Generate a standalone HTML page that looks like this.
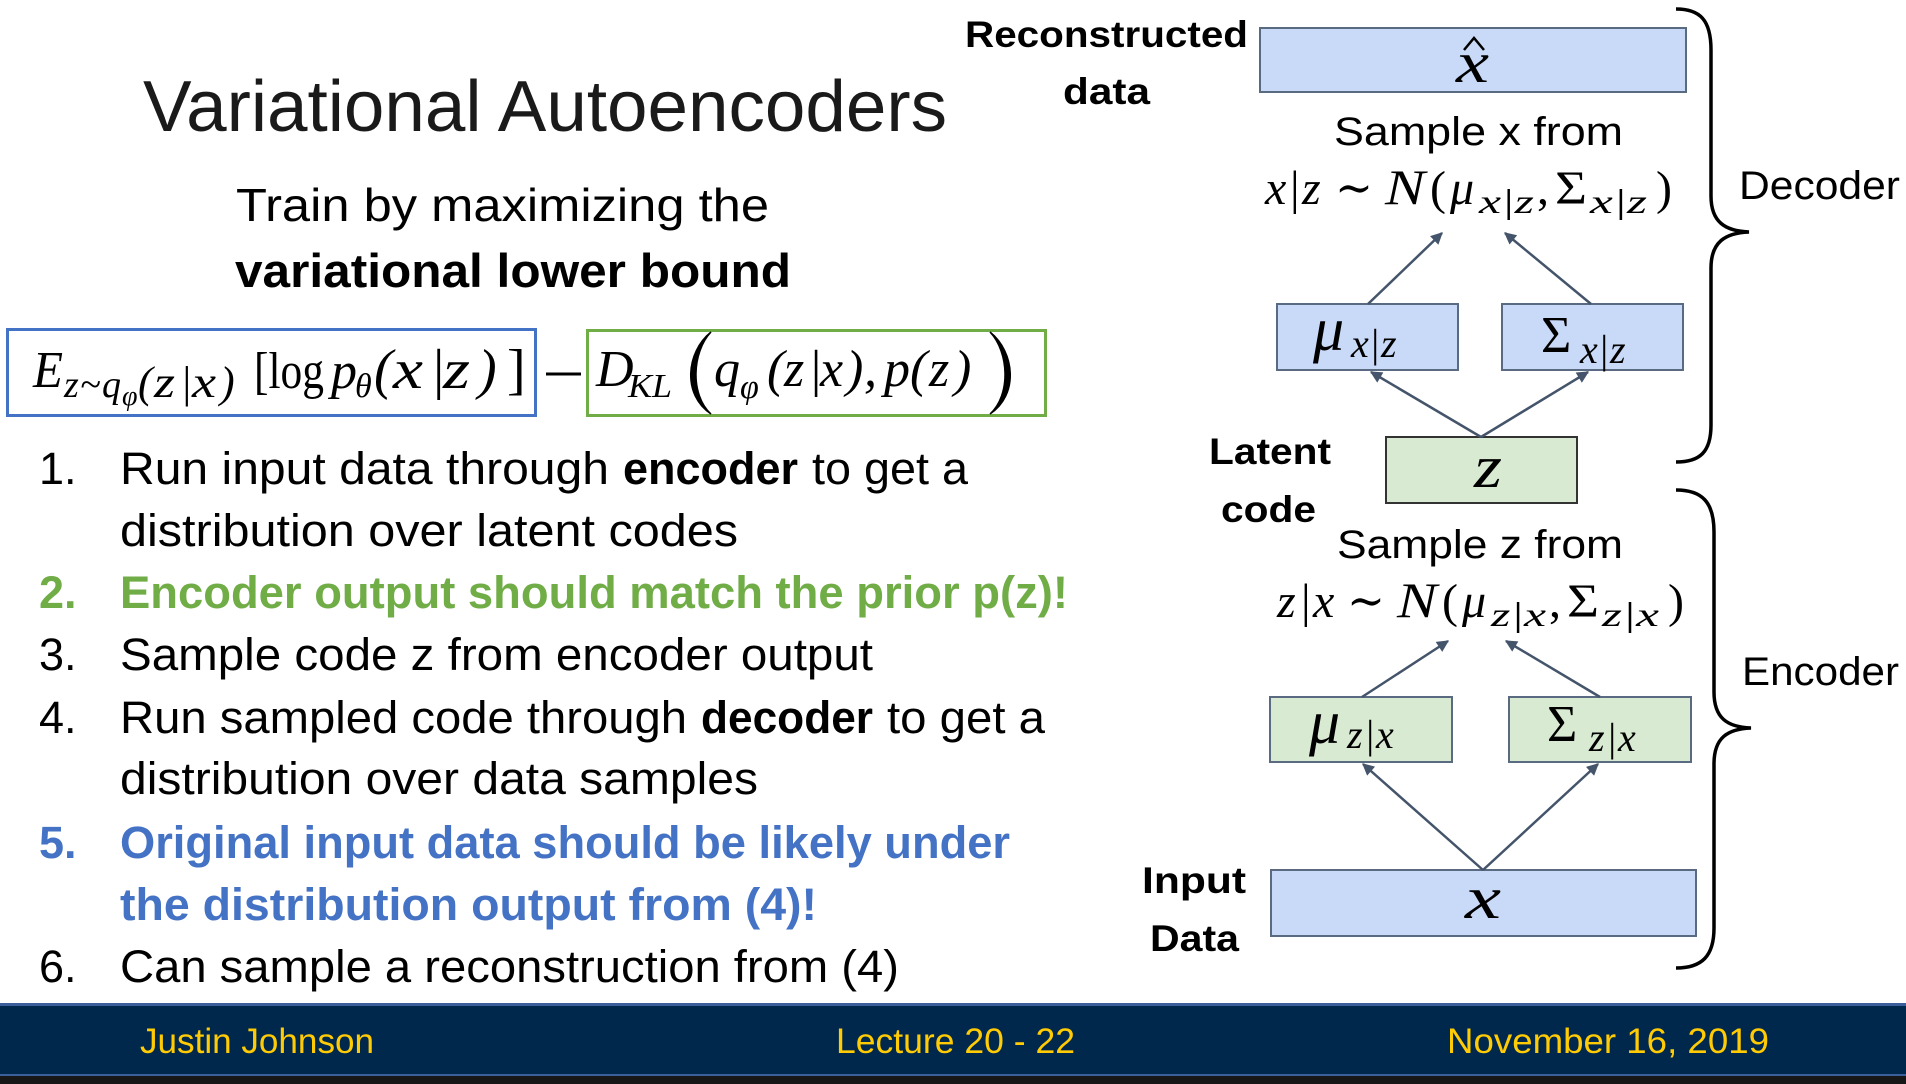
<!DOCTYPE html>
<html>
<head>
<meta charset="utf-8">
<style>
html,body{margin:0;padding:0;background:#fff;}
svg{display:block;}
.s{font-family:"Liberation Sans",sans-serif;}
.m{font-family:"Liberation Serif","DejaVu Serif",serif;}
</style>
</head>
<body>
<svg width="1906" height="1084" viewBox="0 0 1906 1084" xmlns="http://www.w3.org/2000/svg">
<defs>
<marker id="ah" viewBox="0 0 10 10" refX="9" refY="5" markerWidth="14" markerHeight="12" markerUnits="userSpaceOnUse" orient="auto">
<path d="M0,0 L10,5 L0,10 z" fill="#44546a"/>
</marker>
</defs>
<rect x="0" y="0" width="1906" height="1084" fill="#ffffff"/>

<!-- Title -->
<text class="s" x="143" y="131" font-size="72" fill="#1a1a1a" textLength="804" lengthAdjust="spacingAndGlyphs">Variational Autoencoders</text>
<text class="s" x="236" y="221" font-size="46" fill="#000" textLength="533" lengthAdjust="spacingAndGlyphs">Train by maximizing the</text>
<text class="s" x="235" y="287" font-size="47" font-weight="bold" fill="#000" textLength="556" lengthAdjust="spacingAndGlyphs">variational lower bound</text>

<!-- Formula boxes -->
<rect x="7.5" y="329.5" width="528" height="86" fill="none" stroke="#4472c4" stroke-width="3"/>
<rect x="587.5" y="330.5" width="458" height="85" fill="none" stroke="#70ad47" stroke-width="3"/>

<g class="m" fill="#000">
<text x="33" y="387" font-size="52" font-style="italic" textLength="30" lengthAdjust="spacingAndGlyphs">E</text>
<text x="64 80 102" y="397" font-size="38" font-style="italic">z~q</text>
<text x="122" y="405" font-size="28" font-style="italic">φ</text>
<text x="138" y="397" font-size="44" font-style="italic">(</text>
<text x="154" y="397" font-size="44" font-style="italic" textLength="21" lengthAdjust="spacingAndGlyphs">z</text>
<text x="180" y="397" font-size="44" font-style="italic">|</text>
<text x="192" y="397" font-size="44" font-style="italic" textLength="24" lengthAdjust="spacingAndGlyphs">x</text>
<text x="220" y="397" font-size="44" font-style="italic">)</text>
<text x="254" y="388" font-size="52" textLength="70" lengthAdjust="spacingAndGlyphs">[log</text>
<text x="331" y="388" font-size="52" font-style="italic">p</text>
<text x="355" y="397" font-size="34" font-style="italic">θ</text>
<text x="374" y="388" font-size="56" font-style="italic">(</text>
<text x="393" y="388" font-size="56" font-style="italic" textLength="30" lengthAdjust="spacingAndGlyphs">x</text>
<text x="430" y="388" font-size="56" font-style="italic">|</text>
<text x="443" y="388" font-size="56" font-style="italic" textLength="27" lengthAdjust="spacingAndGlyphs">z</text>
<text x="478" y="388" font-size="56" font-style="italic">)</text>
<text x="507" y="388" font-size="56">]</text>

<line x1="546" y1="374" x2="581" y2="374" stroke="#000" stroke-width="3"/>

<text x="596" y="386" font-size="52" font-style="italic">D</text>
<text x="628" y="397" font-size="34" font-style="italic" textLength="44" lengthAdjust="spacingAndGlyphs">KL</text>
<path d="M711,332 C686,352 682,395 711,414 C690,395 692,352 711,332 z" fill="#000" stroke="#000" stroke-width="1.5"/>
<text x="714" y="386" font-size="52" font-style="italic">q</text>
<text x="740" y="398" font-size="34" font-style="italic">φ</text>
<text x="767 784 808 820 846 864" y="386" font-size="52" font-style="italic">(z|x),</text>
<text x="884 910 929 954" y="386" font-size="52" font-style="italic">p(z)</text>
<path d="M990,332 C1015,352 1019,395 990,414 C1011,395 1009,352 990,332 z" fill="#000" stroke="#000" stroke-width="1.5"/>
</g>

<!-- List -->
<g class="s" font-size="45" fill="#000">
<text x="39" y="484">1.</text>
<text x="120" y="484" textLength="489" lengthAdjust="spacingAndGlyphs">Run input data through</text>
<text x="623" y="484" font-weight="bold" textLength="175" lengthAdjust="spacingAndGlyphs">encoder</text>
<text x="812" y="484" textLength="156" lengthAdjust="spacingAndGlyphs">to get a</text>
<text x="120" y="546" textLength="618" lengthAdjust="spacingAndGlyphs">distribution over latent codes</text>

<text x="39" y="608" font-weight="bold" fill="#70ad47">2.</text>
<text x="120" y="608" font-weight="bold" fill="#70ad47" textLength="948" lengthAdjust="spacingAndGlyphs">Encoder output should match the prior p(z)!</text>

<text x="39" y="670">3.</text>
<text x="120" y="670" textLength="753" lengthAdjust="spacingAndGlyphs">Sample code z from encoder output</text>

<text x="39" y="733">4.</text>
<text x="120" y="733" textLength="567" lengthAdjust="spacingAndGlyphs">Run sampled code through</text>
<text x="701" y="733" font-weight="bold" textLength="172" lengthAdjust="spacingAndGlyphs">decoder</text>
<text x="887" y="733" textLength="158" lengthAdjust="spacingAndGlyphs">to get a</text>
<text x="120" y="794" textLength="638" lengthAdjust="spacingAndGlyphs">distribution over data samples</text>

<text x="39" y="858" font-weight="bold" fill="#4472c4">5.</text>
<text x="120" y="858" font-weight="bold" fill="#4472c4" textLength="890" lengthAdjust="spacingAndGlyphs">Original input data should be likely under</text>
<text x="120" y="920" font-weight="bold" fill="#4472c4" textLength="697" lengthAdjust="spacingAndGlyphs">the distribution output from (4)!</text>

<text x="39" y="982">6.</text>
<text x="120" y="982" textLength="779" lengthAdjust="spacingAndGlyphs">Can sample a reconstruction from (4)</text>
</g>

<!-- Diagram labels -->
<g class="s" fill="#000" font-weight="bold" font-size="37">
<text x="965" y="47" textLength="283" lengthAdjust="spacingAndGlyphs">Reconstructed</text>
<text x="1063" y="104" textLength="87" lengthAdjust="spacingAndGlyphs">data</text>
<text x="1209" y="464" textLength="122" lengthAdjust="spacingAndGlyphs">Latent</text>
<text x="1221" y="522" textLength="95" lengthAdjust="spacingAndGlyphs">code</text>
<text x="1142" y="893" textLength="104" lengthAdjust="spacingAndGlyphs">Input</text>
<text x="1150" y="951" textLength="89" lengthAdjust="spacingAndGlyphs">Data</text>
</g>
<g class="s" fill="#000" font-size="40">
<text x="1334" y="145" textLength="289" lengthAdjust="spacingAndGlyphs">Sample x from</text>
<text x="1337" y="558" textLength="286" lengthAdjust="spacingAndGlyphs">Sample z from</text>
<text x="1739" y="199" textLength="161" lengthAdjust="spacingAndGlyphs">Decoder</text>
<text x="1742" y="685" textLength="157" lengthAdjust="spacingAndGlyphs">Encoder</text>
</g>

<!-- Boxes -->
<g stroke="#5a6a80" stroke-width="2">
<rect x="1260" y="28" width="426" height="64" fill="#c9daf8"/>
<rect x="1277" y="304" width="181" height="66" fill="#c9daf8"/>
<rect x="1502" y="304" width="181" height="66" fill="#c9daf8"/>
<rect x="1386" y="437" width="191" height="66" fill="#d9ead3" stroke="#333"/>
<rect x="1270" y="697" width="182" height="65" fill="#d9ead3"/>
<rect x="1509" y="697" width="182" height="65" fill="#d9ead3"/>
<rect x="1271" y="870" width="425" height="66" fill="#c9daf8"/>
</g>

<!-- Box math -->
<g class="m" fill="#000">
<path d="M1464,50 L1474,38 L1484,50" fill="none" stroke="#000" stroke-width="2.5"/>
<text x="1456" y="82" font-size="58" font-style="italic" textLength="33" lengthAdjust="spacingAndGlyphs">x</text>

<text x="1313" y="350" font-size="62" font-style="italic">μ</text>
<text x="1351 1369 1381" y="357" font-size="40" font-style="italic">x|z</text>
<text x="1541" y="352" font-size="52">Σ</text>
<text x="1580 1598 1610" y="363" font-size="40" font-style="italic">x|z</text>

<text x="1474" y="487" font-size="60" font-style="italic" textLength="28" lengthAdjust="spacingAndGlyphs">z</text>

<text x="1309" y="743" font-size="62" font-style="italic">μ</text>
<text x="1347 1364 1376" y="748" font-size="40" font-style="italic">z|x</text>
<text x="1547" y="741" font-size="52">Σ</text>
<text x="1589 1606 1618" y="751" font-size="40" font-style="italic">z|x</text>

<text x="1465" y="918" font-size="60" font-style="italic" textLength="36" lengthAdjust="spacingAndGlyphs">x</text>

<!-- decoder formula -->
<text x="1265" y="204" font-size="48" font-style="italic">x</text>
<text x="1290" y="204" font-size="48">|</text>
<text x="1302" y="204" font-size="48" font-style="italic">z</text>
<text x="1335" y="204" font-size="48" textLength="38" lengthAdjust="spacingAndGlyphs">∼</text>
<text x="1385" y="204" font-size="50" font-style="italic" textLength="40" lengthAdjust="spacingAndGlyphs">N</text>
<text x="1430" y="204" font-size="48">(</text>
<text x="1450" y="204" font-size="48" font-style="italic">μ</text>
<text x="1479" y="213" font-size="34" font-style="italic" textLength="55" lengthAdjust="spacingAndGlyphs">x|z</text>
<text x="1537" y="204" font-size="48">,</text>
<text x="1555" y="204" font-size="48" textLength="32" lengthAdjust="spacingAndGlyphs">Σ</text>
<text x="1590" y="213" font-size="34" font-style="italic" textLength="57" lengthAdjust="spacingAndGlyphs">x|z</text>
<text x="1656" y="204" font-size="48">)</text>

<!-- encoder formula -->
<text x="1277" y="617" font-size="48" font-style="italic">z</text>
<text x="1301" y="617" font-size="48">|</text>
<text x="1313" y="617" font-size="48" font-style="italic">x</text>
<text x="1347" y="617" font-size="48" textLength="38" lengthAdjust="spacingAndGlyphs">∼</text>
<text x="1397" y="617" font-size="50" font-style="italic" textLength="40" lengthAdjust="spacingAndGlyphs">N</text>
<text x="1442" y="617" font-size="48">(</text>
<text x="1462" y="617" font-size="48" font-style="italic">μ</text>
<text x="1491" y="626" font-size="34" font-style="italic" textLength="55" lengthAdjust="spacingAndGlyphs">z|x</text>
<text x="1549" y="617" font-size="48">,</text>
<text x="1567" y="617" font-size="48" textLength="32" lengthAdjust="spacingAndGlyphs">Σ</text>
<text x="1602" y="626" font-size="34" font-style="italic" textLength="57" lengthAdjust="spacingAndGlyphs">z|x</text>
<text x="1668" y="617" font-size="48">)</text>
</g>

<!-- Arrows -->
<g stroke="#44546a" stroke-width="2.5" fill="none" marker-end="url(#ah)">
<line x1="1368" y1="304" x2="1442" y2="233"/>
<line x1="1591" y1="304" x2="1505" y2="233"/>
<line x1="1481" y1="437" x2="1371" y2="372"/>
<line x1="1481" y1="437" x2="1588" y2="372"/>
<line x1="1362" y1="697" x2="1448" y2="641"/>
<line x1="1600" y1="697" x2="1506" y2="641"/>
<line x1="1483" y1="870" x2="1363" y2="764"/>
<line x1="1483" y1="870" x2="1598" y2="764"/>
</g>

<!-- Braces -->
<g stroke="#000" stroke-width="3.5" fill="none">
<path d="M1676,9 C1700,9 1711,20 1711,50 L1711,196 C1711,222 1725,231 1749,232 C1725,233 1711,242 1711,268 L1711,425 C1711,452 1700,462 1676,462"/>
<path d="M1676,490 C1702,490 1714,502 1714,532 L1714,692 C1714,718 1727,727 1751,728 C1727,729 1714,738 1714,764 L1714,928 C1714,956 1702,968 1676,968"/>
</g>

<!-- Footer -->
<rect x="0" y="1003" width="1906" height="72" fill="#00274c"/>
<rect x="0" y="1003" width="1906" height="3" fill="#3a5f9a"/>
<rect x="0" y="1074" width="1906" height="2" fill="#3a5f9a"/>
<rect x="0" y="1076" width="1906" height="8" fill="#171717"/>
<g class="s" font-size="35" fill="#ffcb05">
<text x="140" y="1053" textLength="234" lengthAdjust="spacingAndGlyphs">Justin Johnson</text>
<text x="836" y="1053" textLength="239" lengthAdjust="spacingAndGlyphs">Lecture 20 - 22</text>
<text x="1447" y="1053" textLength="322" lengthAdjust="spacingAndGlyphs">November 16, 2019</text>
</g>
</svg>
</body>
</html>
